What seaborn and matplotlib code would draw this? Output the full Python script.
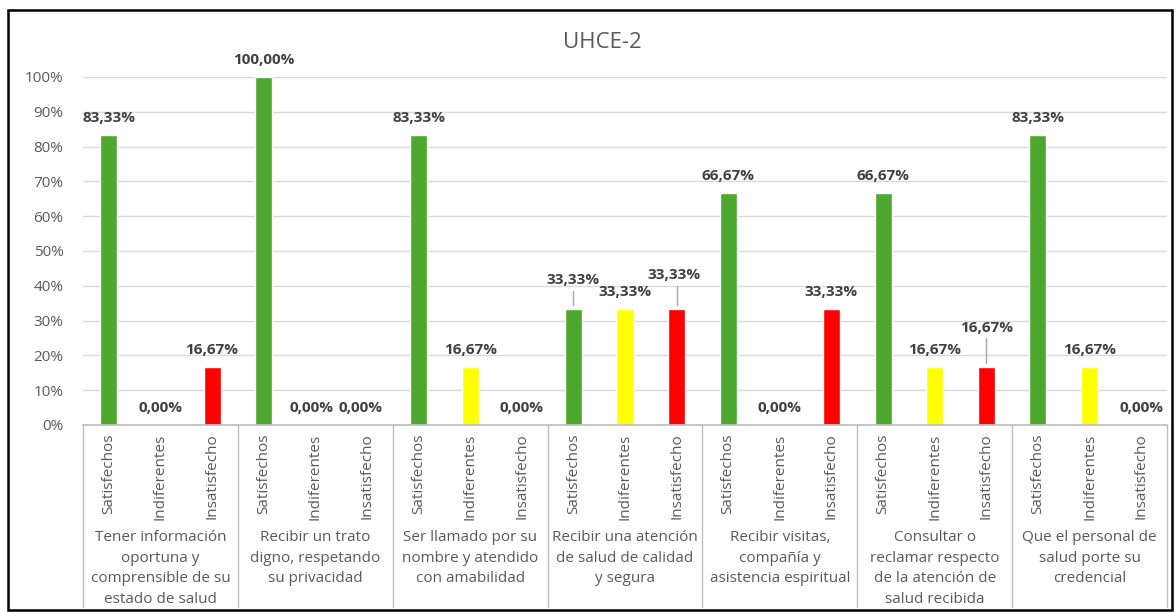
import matplotlib
matplotlib.use("Agg")
import matplotlib.pyplot as plt
from matplotlib.patches import Rectangle
import matplotlib.transforms as mtransforms
import seaborn as sns
import pandas as pd

# Survey results per question (percent)
groups = [
    "Tener información\noportuna y\ncomprensible de su\nestado de salud",
    "Recibir un trato\ndigno, respetando\nsu privacidad",
    "Ser llamado por su\nnombre y atendido\ncon amabilidad",
    "Recibir una atención\nde salud de calidad\ny segura",
    "Recibir visitas,\ncompañía y\nasistencia espiritual",
    "Consultar o\nreclamar respecto\nde la atención de\nsalud recibida",
    "Que el personal de\nsalud porte su\ncredencial",
]
categories = ["Satisfechos", "Indiferentes", "Insatisfecho"]
satisfechos = [83.33, 100.00, 83.33, 33.33, 66.67, 66.67, 83.33]
indiferentes = [0.00, 0.00, 16.67, 33.33, 0.00, 16.67, 16.67]
insatisfecho = [16.67, 0.00, 0.00, 33.33, 33.33, 16.67, 0.00]
title = "UHCE-2"

colors = {"Satisfechos": "#4EA72E", "Indiferentes": "#FFFF00", "Insatisfecho": "#FF0000"}

rows = []
for gi, g in enumerate(groups):
    for cat, vals in zip(categories, [satisfechos, indiferentes, insatisfecho]):
        rows.append({"pos": f"{gi}-{cat}", "grupo": gi, "tipo": cat, "valor": vals[gi]})
df = pd.DataFrame(rows)

sns.set_theme(style="white")
plt.rcParams["font.family"] = ["Open Sans", "DejaVu Sans"]

fig = plt.figure(figsize=(11.76, 6.12), dpi=100)
ax = fig.add_axes([83 / 1176, 187 / 612, (1167 - 83) / 1176, 348 / 612])

sns.barplot(data=df, x="pos", y="valor", hue="tipo", palette=colors,
            dodge=False, width=0.33, ax=ax, legend=False, saturation=1)

ax.set_xlim(-0.5, len(df) - 0.5)
ax.set_ylim(0, 100)
ax.set_yticks(range(0, 101, 10))
ax.set_yticklabels([f"{t}%" for t in range(0, 101, 10)], color="#595959", fontsize=11)
ax.yaxis.grid(True, color="#D9D9D9", linewidth=1)
ax.set_axisbelow(True)
ax.tick_params(axis="y", length=0, pad=14)
ax.set_xlabel("")
ax.set_ylabel("")
for s in ["left", "right", "top"]:
    ax.spines[s].set_visible(False)
ax.spines["bottom"].set_color("#BFBFBF")

ax.set_xticks(range(len(df)))
ax.set_xticklabels(df["tipo"], rotation=90, color="#595959", fontsize=11, va="top")
ax.tick_params(axis="x", length=0, pad=6)

# Group separators and group names below the axis
trans = mtransforms.blended_transform_factory(ax.transData, ax.transAxes)
for k in range(len(groups) + 1):
    x = k * 3 - 0.5
    ax.plot([x, x], [0, -0.523], transform=trans, color="#BFBFBF", lw=1, clip_on=False)
for gi, g in enumerate(groups):
    ax.text(gi * 3 + 1, -0.303, g, transform=trans, ha="center", va="top",
            fontsize=11, color="#595959", linespacing=1.5)

# Value labels
def fmt(v):
    return f"{v:.2f}".replace(".", ",") + "%"

offsets = {
    (1, "Indiferentes"): (-0.08, 0, None),
    (1, "Insatisfecho"): (-0.12, 0, None),
    (3, "Satisfechos"): (0, 41.7 - 33.33 - 5, (34.5, 38.5)),
    (3, "Insatisfecho"): (-0.05, 43.1 - 33.33 - 5, (34.5, 40.0)),
    (5, "Insatisfecho"): (0, 27.9 - 16.67 - 5, (17.8, 25.0)),
}
for i, r in df.iterrows():
    dx, dy, leader = offsets.get((r["grupo"], r["tipo"]), (0, 0, None))
    y = r["valor"] + 5 + dy
    ax.text(i + dx, y, fmt(r["valor"]), ha="center", va="center", fontsize=11,
            fontweight="bold", color="#404040")
    if leader:
        ax.plot([i, i], leader, color="#A6A6A6", lw=1)

fig.text(602 / 1176, 1 - 42 / 612, title, ha="center", va="center", fontsize=16, color="#595959")
fig.patches.append(Rectangle((8 / 1176, 2 / 612), 1164 / 1176, 600 / 612,
                             transform=fig.transFigure, fill=False, edgecolor="black", lw=1.8))

fig.savefig("out.png", dpi=100)
